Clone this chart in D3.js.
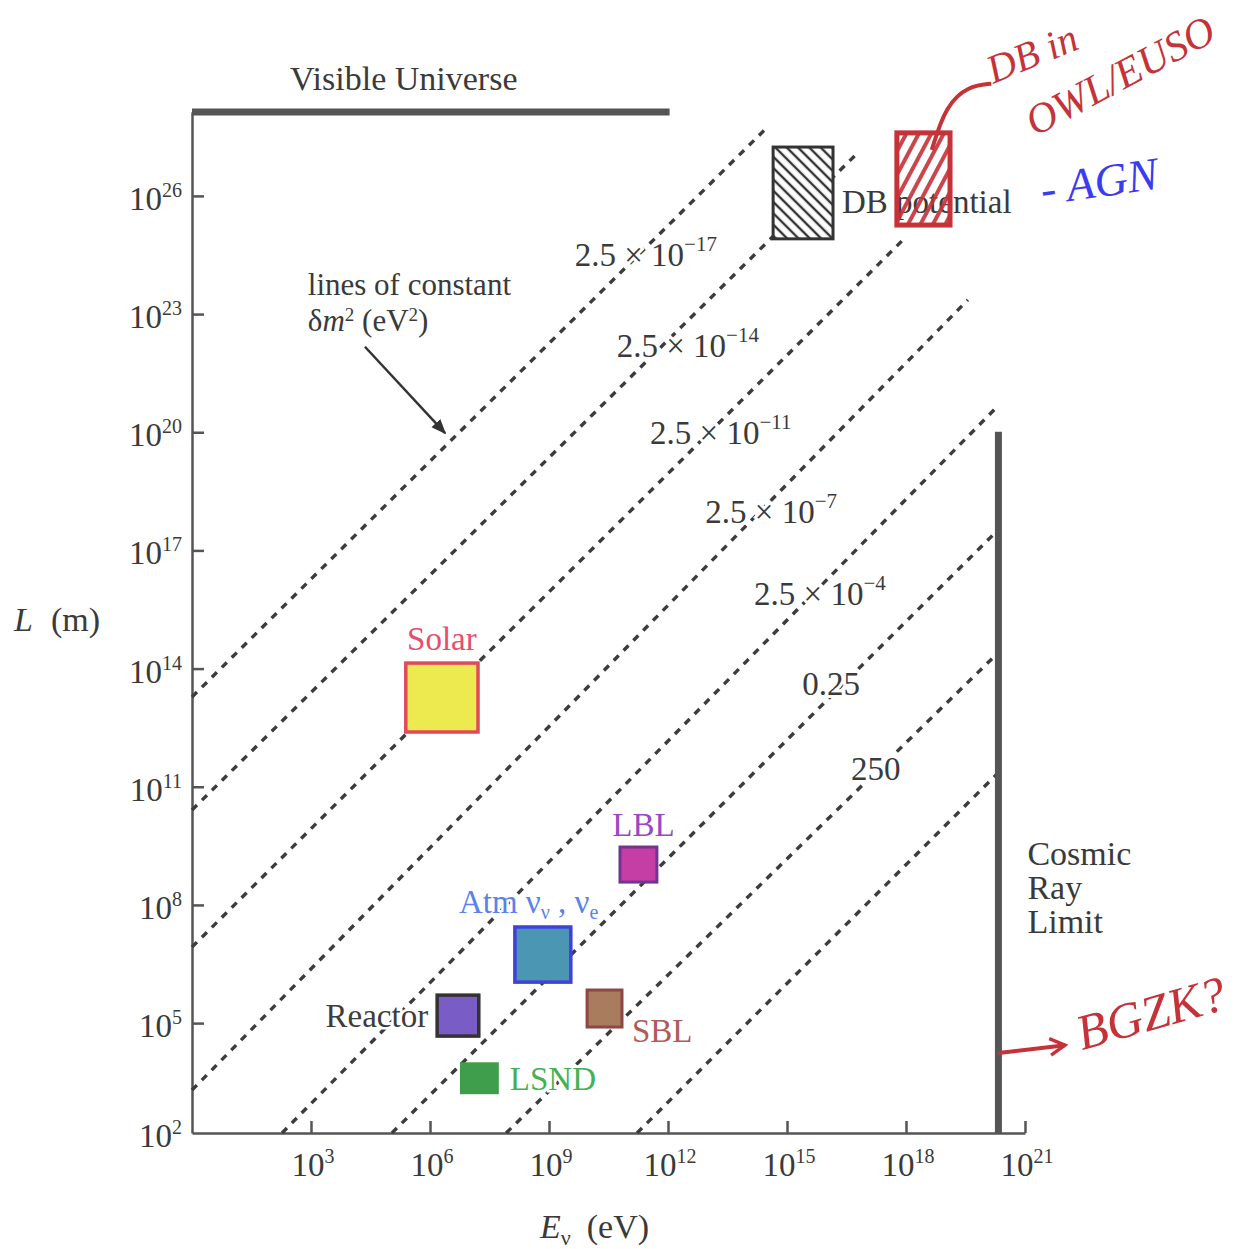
<!DOCTYPE html>
<html>
<head>
<meta charset="utf-8">
<script src="https://cdn.jsdelivr.net/npm/d3@7"></script>
<style>
	body { margin: 0; background: #fff; }
	text { font-family: "Liberation Serif", "Times New Roman", serif; }
</style>
</head>
<body>
<svg id="chart" width="1248" height="1249"></svg>
<script>
// all values are log10 (E in eV, L in m)
const X_TICKS = [3, 6, 9, 12, 15, 18, 21];
const Y_TICKS = [2, 5, 8, 11, 14, 17, 20, 23, 26];
const L_AXIS_MIN = 2.21;      // where the E axis crosses
const L_TOP = 28.13;          // visible universe
const VU_E_MAX = 12.04;
const CR_E = 20.33;           // cosmic ray limit
const CR_L_MAX = 20.01;

// dashed lines of constant dm^2, start and end points
const LINE_E0 = [0, 0, 0, 0, 2.27, 5.04, 7.92, 11.22];
const LINE_L0 = [13.28, 10.41, 6.93, 3.30, 2.21, 2.21, 2.21, 2.21];
const LINE_E1 = [14.44, 16.81, 18.0, 19.56, 20.29, 20.32, 20.32, 20.32];
const LINE_L1 = [27.68, 27.12, 24.96, 23.36, 20.64, 17.52, 14.40, 11.35];

// dm^2 labels (eV^2): mantissa, exponent, and where the label sits
const DM_BASE = ["2.5 × 10", "2.5 × 10", "2.5 × 10", "2.5 × 10", "2.5 × 10", "0.25", "250"];
const DM_EXP = ["−17", "−14", "−11", "−7", "−4", "", ""];
const DM_LABEL_E = [11.44, 12.50, 13.33, 14.60, 15.83, 16.11, 17.24];
const DM_LABEL_L = [24.22, 21.91, 19.70, 17.69, 15.61, 13.33, 11.17];

// experiments (boxes)
const EXP_NAMES = ["Solar", "LBL", "Atm", "Reactor", "SBL", "LSND"];
const EXP_E_MIN = [5.39, 10.79, 8.14, 6.18, 9.96, 6.78];
const EXP_E_MAX = [7.21, 11.72, 9.55, 7.23, 10.84, 7.71];
const EXP_L_MIN = [12.39, 8.58, 6.04, 4.67, 4.90, 3.22];
const EXP_L_MAX = [14.14, 9.47, 7.44, 5.71, 5.84, 3.98];

// dark matter / "DB potential" box
const DB_E = [14.65, 16.16];
const DB_L = [24.91, 27.24];
// hand drawn box
const OWL_E = [17.77, 19.11];
const OWL_L = [25.26, 27.60];

const EXP_STYLE = {
	Solar: { fill: "#ecea4e", stroke: "#e2485c", sw: 3.5, label: "#e2506c" },
	LBL: { fill: "#c43ea6", stroke: "#73348e", sw: 3, label: "#9a48c4" },
	Atm: { fill: "#4b97b3", stroke: "#4040dc", sw: 3.5, label: "#5a82ea" },
	Reactor: { fill: "#7a5cc6", stroke: "#333", sw: 3.5, label: "#3c3c3c" },
	SBL: { fill: "#a87c5c", stroke: "#8e4646", sw: 3, label: "#b05a5a" },
	LSND: { fill: "#3f9e4b", stroke: "#3f9e4b", sw: 2, label: "#44b254" }
};

const INK = "#3a3a3a";
const RED = "#c53238";
const BLUE = "#3b3bef";

const svg = d3.select("#chart");
svg.append("rect").attr("width", 1248).attr("height", 1249).attr("fill", "#fff");

const x = d3.scaleLog().domain([1, 1e21]).range([192, 1025]);
const y = d3.scaleLog().domain([Math.pow(10, L_AXIS_MIN), Math.pow(10, L_TOP)]).range([1133, 112]);
const P = (le, ll) => [x(Math.pow(10, le)), y(Math.pow(10, ll))];

const defs = svg.append("defs");
defs.append("pattern")
	.attr("id", "hatchDB")
	.attr("patternUnits", "userSpaceOnUse")
	.attr("width", 8).attr("height", 8)
	.attr("patternTransform", "rotate(45)")
	.append("line")
	.attr("x1", 0).attr("y1", 4).attr("x2", 8).attr("y2", 4)
	.attr("stroke", "#333").attr("stroke-width", 2.4);
defs.append("pattern")
	.attr("id", "hatchRed")
	.attr("patternUnits", "userSpaceOnUse")
	.attr("width", 11).attr("height", 11)
	.attr("patternTransform", "rotate(-62)")
	.append("line")
	.attr("x1", 0).attr("y1", 5).attr("x2", 11).attr("y2", 5)
	.attr("stroke", RED).attr("stroke-width", 4);
defs.append("marker")
	.attr("id", "arrowBlack")
	.attr("viewBox", "0 0 10 10")
	.attr("refX", 9).attr("refY", 5)
	.attr("markerWidth", 6).attr("markerHeight", 6)
	.attr("orient", "auto")
	.append("path").attr("d", "M0,1L10,5L0,9Z").attr("fill", "#333");
defs.append("marker")
	.attr("id", "arrowRed")
	.attr("viewBox", "0 0 12 12")
	.attr("refX", 10).attr("refY", 6)
	.attr("markerWidth", 5).attr("markerHeight", 5)
	.attr("markerUnits", "strokeWidth")
	.attr("orient", "auto")
	.append("path").attr("d", "M1,1L10,6L1,11").attr("fill", "none")
	.attr("stroke", RED).attr("stroke-width", 2);

// superscript helper
const supText = (sel, base, exp, size, supSize, raise) => {
	sel.append("tspan").text(base);
	if (exp) {
		sel.append("tspan").attr("font-size", supSize).attr("dy", -raise).text(exp);
	}
	return sel;
};
// white halo so the dashes break around the text
const halo = (sel, w) => sel.attr("stroke", "#fff").attr("stroke-width", w || 6).attr("paint-order", "stroke");

// ---- axes
const axisStyle = (g) => {
	g.selectAll("path, line").attr("stroke", "#555").attr("stroke-width", 2.5);
	g.selectAll("text").remove();
};

svg.append("g")
	.attr("transform", "translate(0," + y(Math.pow(10, L_AXIS_MIN)) + ")")
	.call(d3.axisBottom(x)
		.tickValues(X_TICKS.map((p) => Math.pow(10, p)))
		.tickSize(-12).tickSizeOuter(0))
	.call(axisStyle);

svg.append("g")
	.attr("transform", "translate(" + x(1) + ",0)")
	.call(d3.axisLeft(y)
		.tickValues(Y_TICKS.filter((p) => p > L_AXIS_MIN).map((p) => Math.pow(10, p)))
		.tickSize(-12).tickSizeOuter(0))
	.call(axisStyle);

svg.append("g").selectAll("text")
	.data(X_TICKS)
	.enter().append("text")
	.attr("x", (d) => x(Math.pow(10, d)) + 2)
	.attr("y", 1176)
	.attr("text-anchor", "middle")
	.attr("font-size", 33)
	.attr("fill", INK)
	.each(function (d) { supText(d3.select(this), "10", String(d), 33, 20, 13); });

svg.append("g").selectAll("text")
	.data(Y_TICKS)
	.enter().append("text")
	.attr("x", 182)
	.attr("y", (d) => Math.min(y(Math.pow(10, d)), 1133) + 14)
	.attr("text-anchor", "end")
	.attr("font-size", 33)
	.attr("fill", INK)
	.each(function (d) { supText(d3.select(this), "10", String(d), 33, 20, 13); });

// axis titles
const yTitle = svg.append("text").attr("x", 14).attr("y", 631).attr("font-size", 34).attr("fill", INK);
yTitle.append("tspan").attr("font-style", "italic").text("L");
yTitle.append("tspan").attr("dx", 18).text("(m)");

const xTitle = svg.append("text").attr("x", 540).attr("y", 1238).attr("font-size", 34).attr("fill", INK);
xTitle.append("tspan").attr("font-style", "italic").text("E");
xTitle.append("tspan").attr("font-size", 22).attr("dy", 7).text("ν");
xTitle.append("tspan").attr("dx", 16).attr("dy", -7).text("(eV)");

// ---- visible universe & cosmic ray limit
svg.append("line")
	.attr("x1", x(1)).attr("x2", x(Math.pow(10, VU_E_MAX)))
	.attr("y1", y(Math.pow(10, L_TOP))).attr("y2", y(Math.pow(10, L_TOP)))
	.attr("stroke", "#555").attr("stroke-width", 7);
svg.append("text")
	.attr("x", (x(1) + x(Math.pow(10, VU_E_MAX))) / 2 - 27)
	.attr("y", y(Math.pow(10, L_TOP)) - 22)
	.attr("text-anchor", "middle")
	.attr("font-size", 34).attr("fill", INK)
	.text("Visible Universe");

// ---- dashed lines
const lineIdx = d3.range(LINE_E0.length);
svg.append("g").selectAll("line")
	.data(lineIdx)
	.enter().append("line")
	.attr("x1", (i) => P(LINE_E0[i], LINE_L0[i])[0])
	.attr("y1", (i) => P(LINE_E0[i], LINE_L0[i])[1])
	.attr("x2", (i) => P(LINE_E1[i], LINE_L1[i])[0])
	.attr("y2", (i) => P(LINE_E1[i], LINE_L1[i])[1])
	.attr("stroke", "#3c3c3c")
	.attr("stroke-width", 3.4)
	.attr("stroke-dasharray", "7,7");

svg.append("line")
	.attr("x1", x(Math.pow(10, CR_E))).attr("x2", x(Math.pow(10, CR_E)))
	.attr("y1", y(Math.pow(10, L_AXIS_MIN))).attr("y2", y(Math.pow(10, CR_L_MAX)))
	.attr("stroke", "#555").attr("stroke-width", 7);
const crText = svg.append("text")
	.attr("x", x(Math.pow(10, CR_E)) + 29)
	.attr("y", 865)
	.attr("font-size", 34).attr("fill", INK);
["Cosmic", "Ray", "Limit"].forEach((w, i) => {
	crText.append("tspan").attr("x", x(Math.pow(10, CR_E)) + 29).attr("dy", i ? 34 : 0).text(w);
});

// dm^2 labels
svg.append("g").selectAll("text")
	.data(DM_BASE)
	.enter().append("text")
	.attr("x", (d, i) => P(DM_LABEL_E[i], DM_LABEL_L[i])[0])
	.attr("y", (d, i) => P(DM_LABEL_E[i], DM_LABEL_L[i])[1])
	.attr("text-anchor", "middle")
	.attr("font-size", 33)
	.attr("fill", INK)
	.call(halo)
	.each(function (d, i) { supText(d3.select(this), d, DM_EXP[i], 33, 21, 15); });

// "lines of constant" note + arrow
svg.append("text").attr("font-size", 31).attr("fill", INK)
	.attr("x", P(2.92, 23.48)[0]).attr("y", P(2.92, 23.48)[1]).text("lines of constant");
const note2 = svg.append("text").attr("font-size", 31).attr("fill", INK)
	.attr("x", P(2.92, 22.58)[0]).attr("y", P(2.92, 22.58)[1]);
note2.append("tspan").text("δ");
note2.append("tspan").attr("font-style", "italic").text("m");
note2.append("tspan").attr("font-size", 19).attr("dy", -10).text("2");
note2.append("tspan").attr("dy", 10).text(" (eV");
note2.append("tspan").attr("font-size", 19).attr("dy", -10).text("2");
note2.append("tspan").attr("dy", 10).text(")");
svg.append("line")
	.attr("x1", P(4.36, 22.17)[0]).attr("y1", P(4.36, 22.17)[1])
	.attr("x2", P(6.38, 19.98)[0]).attr("y2", P(6.38, 19.98)[1])
	.attr("stroke", "#333").attr("stroke-width", 2.5)
	.attr("marker-end", "url(#arrowBlack)");

// ---- experiment boxes
const expIdx = d3.range(EXP_NAMES.length);
svg.append("g").selectAll("rect")
	.data(expIdx)
	.enter().append("rect")
	.attr("x", (i) => x(Math.pow(10, EXP_E_MIN[i])))
	.attr("y", (i) => y(Math.pow(10, EXP_L_MAX[i])))
	.attr("width", (i) => x(Math.pow(10, EXP_E_MAX[i])) - x(Math.pow(10, EXP_E_MIN[i])))
	.attr("height", (i) => y(Math.pow(10, EXP_L_MIN[i])) - y(Math.pow(10, EXP_L_MAX[i])))
	.attr("fill", (i) => EXP_STYLE[EXP_NAMES[i]].fill)
	.attr("stroke", (i) => EXP_STYLE[EXP_NAMES[i]].stroke)
	.attr("stroke-width", (i) => EXP_STYLE[EXP_NAMES[i]].sw);

// labels placed relative to their boxes
const box = (i) => ({
	l: x(Math.pow(10, EXP_E_MIN[i])), r: x(Math.pow(10, EXP_E_MAX[i])),
	t: y(Math.pow(10, EXP_L_MAX[i])), b: y(Math.pow(10, EXP_L_MIN[i]))
});
const LABEL_POS = {
	Solar: (bx) => ({ x: (bx.l + bx.r) / 2, y: bx.t - 13, anchor: "middle" }),
	LBL: (bx) => ({ x: (bx.l + bx.r) / 2 + 5, y: bx.t - 11, anchor: "middle" }),
	Atm: (bx) => ({ x: bx.l - 56, y: bx.t - 14, anchor: "start" }),
	Reactor: (bx) => ({ x: bx.l - 9, y: bx.b - 9, anchor: "end" }),
	SBL: (bx) => ({ x: bx.r + 10, y: bx.b + 15, anchor: "start" }),
	LSND: (bx) => ({ x: bx.r + 12, y: bx.b - 3, anchor: "start" })
};
expIdx.forEach((i) => {
	const name = EXP_NAMES[i];
	const pos = LABEL_POS[name](box(i));
	const t = svg.append("text")
		.attr("x", pos.x).attr("y", pos.y)
		.attr("text-anchor", pos.anchor)
		.attr("font-size", 33)
		.attr("fill", EXP_STYLE[name].label)
		.call(halo, 5);
	if (name === "Atm") {
		t.append("tspan").text("Atm ν");
		t.append("tspan").attr("font-size", 20).attr("dy", 6).text("ν");
		t.append("tspan").attr("dy", -6).text(" , ν");
		t.append("tspan").attr("font-size", 20).attr("dy", 6).text("e");
	} else {
		t.text(name);
	}
});

// DB potential box
const dbX = x(Math.pow(10, DB_E[0]));
const dbY = y(Math.pow(10, DB_L[1]));
const dbW = x(Math.pow(10, DB_E[1])) - dbX;
const dbH = y(Math.pow(10, DB_L[0])) - dbY;
svg.append("rect")
	.attr("x", dbX).attr("y", dbY).attr("width", dbW).attr("height", dbH)
	.attr("fill", "#fff");
svg.append("rect")
	.attr("x", dbX).attr("y", dbY).attr("width", dbW).attr("height", dbH)
	.attr("fill", "url(#hatchDB)")
	.attr("stroke", "#333").attr("stroke-width", 3);
svg.append("text")
	.attr("x", dbX + dbW + 9)
	.attr("y", dbY + dbH / 2 + 20)
	.attr("font-size", 33).attr("fill", INK)
	.text("DB potential");

// ---- hand drawn notes
svg.append("rect")
	.attr("x", x(Math.pow(10, OWL_E[0])))
	.attr("y", y(Math.pow(10, OWL_L[1])))
	.attr("width", x(Math.pow(10, OWL_E[1])) - x(Math.pow(10, OWL_E[0])))
	.attr("height", y(Math.pow(10, OWL_L[0])) - y(Math.pow(10, OWL_L[1])))
	.attr("fill", "url(#hatchRed)")
	.attr("fill-opacity", 0.9)
	.attr("stroke", RED).attr("stroke-width", 5);
svg.append("path")
	.attr("d", d3.line().curve(d3.curveBasis)([P(18.65, 27.17), P(19.0, 28.3), P(19.6, 28.8), P(20.15, 28.85)]))
	.attr("fill", "none").attr("stroke", RED).attr("stroke-width", 4);

const hand = (le, ll, rot, size, color, txt) => {
	const [px, py] = P(le, ll);
	svg.append("text")
		.attr("x", px).attr("y", py)
		.attr("transform", "rotate(" + rot + "," + px + "," + py + ")")
		.attr("font-family", "DejaVu Sans Condensed, DejaVu Sans, sans-serif")
		.attr("font-style", "italic")
		.attr("font-size", size)
		.attr("fill", color)
		.text(txt);
};
hand(20.2, 28.85, -22, 40, RED, "DB in");
hand(21.25, 27.5, -28, 42, RED, "OWL/EUSO");
hand(21.45, 25.77, -8, 46, BLUE, "- AGN");
hand(22.44, 4.31, -16, 50, RED, "BGZK?");

svg.append("line")
	.attr("x1", P(20.33, 4.24)[0]).attr("y1", P(20.33, 4.24)[1])
	.attr("x2", P(22.01, 4.44)[0]).attr("y2", P(22.01, 4.44)[1])
	.attr("stroke", RED).attr("stroke-width", 4)
	.attr("marker-end", "url(#arrowRed)");
</script>
</body>
</html>
